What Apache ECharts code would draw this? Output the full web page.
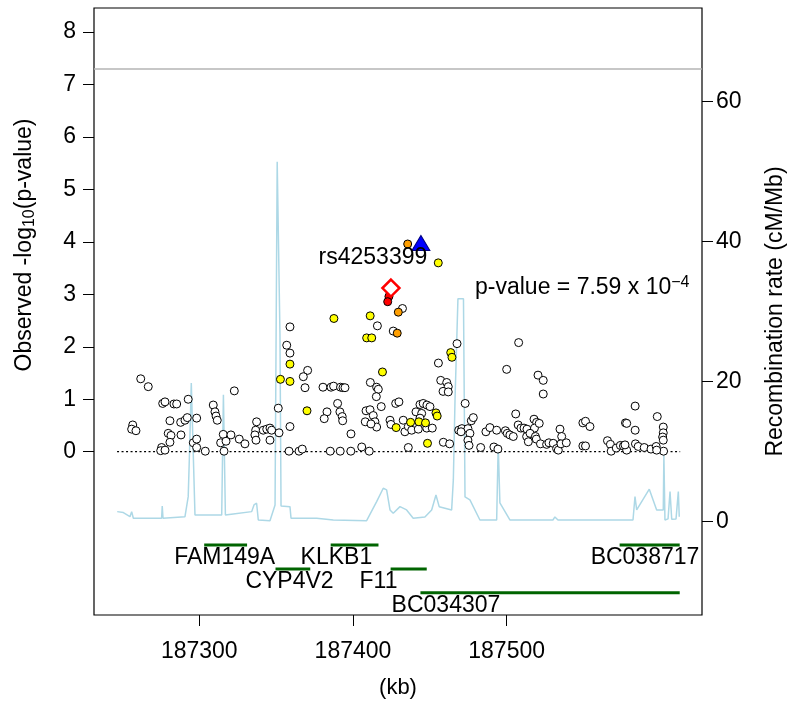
<!DOCTYPE html>
<html><head><meta charset="utf-8">
<script src="https://cdn.jsdelivr.net/npm/echarts@6/dist/echarts.min.js"></script>
<style>html,body{margin:0;padding:0;background:#fff}#c{width:790px;height:704px}</style>
</head><body><div id="c"></div>
<script>
// ---------- data ----------
const xRange = [187231.5, 187627.1];          // kb shown
const yRange = [-3.113, 8.459];               // -log10(p) axis extent
const rRange = [-13.33, 73.34];               // recombination axis extent
const xTicks = [187300, 187400, 187500];
const yTicks = [0, 1, 2, 3, 4, 5, 6, 7, 8];
const rTicks = [0, 20, 40, 60];
const regionKb = [187246.5, 187612.9];
const genomeWideP = 5e-8;

const snpWhite = [
[187261.9,1.39],[187266.8,1.24],[187256.7,0.51],[187256.0,0.43],[187258.8,0.40],
[187276.2,0.92],[187277.7,0.95],[187283.5,0.91],[187285.3,0.91],[187292.8,1.00],
[187280.9,0.59],[187287.9,0.56],[187290.7,0.60],[187292.2,0.65],[187298.3,0.64],
[187279.8,0.35],[187281.6,0.31],[187288.1,0.32],[187280.9,0.18],[187275.5,0.08],
[187274.9,0.02],[187277.7,0.03],[187296.1,0.17],[187298.3,0.24],[187298.3,0.08],
[187303.9,0.01],
[187322.8,1.16],[187309.1,0.89],[187310.2,0.76],[187310.9,0.68],[187311.7,0.60],
[187315.6,0.33],[187313.9,0.17],[187317.4,0.20],[187316.1,0.01],[187320.6,0.32],
[187326.0,0.24],[187329.7,0.15],[187337.3,0.57],[187336.7,0.41],[187336.2,0.32],
[187336.9,0.22],[187341.6,0.41],[187343.9,0.43],[187346.0,0.45],[187347.1,0.41],
[187346.0,0.22],[187351.9,0.36],[187351.4,0.83],
[187359.0,0.48],[187358.4,0.01],[187364.9,0.01],[187367.0,0.05],[187359.0,2.38],
[187356.9,2.03],[187359.0,1.88],[187370.5,1.55],[187367.7,1.43],[187368.8,1.22],
[187380.5,1.23],[187385.7,1.23],[187387.4,1.25],[187391.9,1.23],[187393.5,1.22],
[187394.8,1.22],[187390.0,0.92],[187383.1,0.76],[187381.3,0.63],[187391.5,0.76],
[187393.0,0.67],[187393.3,0.59],[187398.7,0.34],[187385.2,0.01],[187391.7,0.01],
[187398.6,0.01],[187405.7,0.09],[187410.6,0.01],[187415.9,2.40],[187411.3,1.32],
[187415.4,1.23],[187416.5,1.19],[187415.2,1.05],[187418.4,0.86],[187408.5,0.78],
[187411.1,0.80],[187408.0,0.57],[187413.2,0.69],[187414.3,0.57],[187415.4,0.47],
[187411.7,0.53],[187424.1,0.60],[187424.7,0.52],[187427.8,0.92],[187429.9,0.95],
[187426.2,2.30],[187432.2,2.73],
[187432.7,0.60],[187433.8,0.38],[187436.0,0.48],[187438.2,0.41],[187441.0,0.76],
[187443.6,0.90],[187445.7,0.92],[187448.1,0.89],[187450.1,0.86],[187444.7,0.73],
[187442.5,0.43],[187443.6,0.64],[187448.0,0.45],[187451.6,0.45],[187436.0,0.08],
[187458.8,0.18],[187462.9,0.15],[187455.6,1.69],[187457.1,1.36],[187461.0,1.32],
[187462.0,1.24],[187458.6,1.15],[187462.0,1.14],[187467.7,2.06],[187473.0,0.92],
[187468.8,0.41],[187470.9,0.44],[187474.8,0.44],[187477.0,0.59],[187478.3,0.65],
[187476.1,0.35],[187474.8,0.22],[187475.5,0.12],[187470.3,0.38],
[187483.1,0.08],[187486.5,0.38],[187489.1,0.46],[187493.5,0.41],[187491.7,0.09],
[187494.3,0.05],[187500.0,1.57],[187507.8,2.08],[187499.2,0.40],[187500.4,0.35],
[187502.1,0.32],[187504.3,0.29],[187505.9,0.72],[187507.5,0.51],[187509.3,0.45],
[187511.3,0.45],[187513.2,0.43],[187513.0,0.29],[187514.1,0.19],[187517.8,0.62],
[187519.5,0.56],[187518.1,0.45],[187515.2,0.35],[187518.7,0.29],[187521.2,0.54],
[187520.4,1.46],[187523.8,1.36],[187523.8,1.10],[187519.3,0.24],[187522.0,0.15],
[187526.0,0.14],[187527.5,0.17],[187530.3,0.16],[187532.5,0.06],[187533.6,0.03],
[187534.7,0.43],[187535.8,0.29],[187535.3,0.15],[187538.8,0.17],[187549.6,0.55],
[187551.3,0.58],[187554.2,0.48],[187549.6,0.11],[187551.3,0.11],[187565.6,0.21],
[187567.5,0.14],[187568.0,0.01],[187571.3,0.07],[187574.0,0.12],[187576.0,0.11],
[187578.1,0.03],[187577.0,0.13],[187577.3,0.55],[187578.1,0.54],[187583.6,0.87],
[187583.6,0.41],[187583.8,0.15],[187585.6,0.10],[187589.5,0.08],[187593.9,0.05],
[187597.3,0.10],[187598.0,0.67],[187601.9,0.47],[187601.9,0.36],[187601.5,0.28],
[187601.9,0.22],[187602.1,0.01],[187597.6,0.03]
];
const snpYellow = [
[187352.8,1.38],[187359.0,1.34],[187359.0,1.67],[187370.1,0.78],[187387.6,2.54],
[187411.2,2.59],[187408.9,2.17],[187412.2,2.17],[187419.2,1.52],[187428.1,0.46],
[187437.5,0.56],[187442.9,0.57],[187447.2,0.55],[187454.0,0.74],[187454.8,0.68],
[187448.5,0.16],[187463.6,1.89],[187464.4,1.80],[187455.5,3.60]
];
const snpOrange = [[187435.6,3.96],[187429.5,2.66],[187428.8,2.26]];
const snpRed = [[187423.4,2.96],[187422.6,2.86]];
const refSnpName = 'rs4253399';
const refSnp = [[187424.7, 3.12]];
const replicationSnp = [[187444.2, 3.98]];
const pValueText = 'p-value = 7.59 x 10';
const pValueExp = '\u22124';

const recombKb = [187246.6,187250.6,187254.9,187256.0,187257.1,187275.5,187275.9,187276.4,187290.7,187292.8,
187293.6,187294.8,187295.7,187297.2,187314.6,187315.7,187317.0,187322.1,187334.1,187335.6,
187337.3,187338.4,187346.0,187349.3,187350.7,187351.6,187352.5,187353.2,187359.0,187359.7,
187376.4,187387.2,187408.9,187415.4,187419.7,187421.9,187424.1,187426.2,187430.6,187434.9,
187439.2,187446.8,187451.2,187454.0,187456.1,187464.2,187465.3,187466.4,187468.3,187471.9,
187472.9,187476.1,187482.6,187493.5,187494.5,187495.6,187502.1,187530.1,187531.4,187533.4,
187582.2,187583.5,187584.6,187592.8,187597.6,187601.9,187602.3,187603.0,187605.0,187606.3,
187607.4,187610.2,187611.7,187612.3];
const recombRate = [1.43,1.29,0.71,1.43,0.49,0.49,2.24,0.49,0.71,3.57,
9.53,19.81,19.81,0.96,0.96,18.1,0.96,1.1,1.43,2.39,
2.63,0.24,0.14,2.39,51.39,51.39,26.67,2.24,2.14,0.49,
0.49,0.24,0.14,2.86,4.77,4.53,1.67,1.2,2.14,1.67,
0.49,0.67,1.67,3.81,2.14,1.67,5.96,17.39,31.81,31.81,
3.53,3.10,0.24,0.24,10.96,2.67,0.24,0.24,0.67,0.24,
0.24,3.57,1.67,4.63,1.67,1.67,9.53,0.24,0.39,4.29,
0.34,0.39,4.29,0.71];

const geneNames = ['FAM149A','KLKB1','BC038717','CYP4V2','F11','BC034307'];
const geneStart = [187303.2,187385.5,187573.5,187349.6,187424.5,187443.9];
const geneEnd   = [187331.1,187416.6,187612.6,187372.2,187448.0,187612.6];
const geneRow   = [1,1,1,2,2,3];
const geneLabelKb = [187316.5,187389.2,187590.0,187358.7,187416.6,187460.5];

// ---------- chart ----------
const FONT = '"Liberation Sans", Arial, Helvetica, sans-serif';
const rowValue = r => -1.78 - (r - 1) * 0.455;
const chart = echarts.init(document.getElementById('c'));
const circle = (fill) => ({color: fill, borderColor: '#000', borderWidth: 1, opacity: 1});

const option = {
  animation: false,
  backgroundColor: '#fff',
  textStyle: {fontFamily: FONT},
  grid: [
    {left: 94, right: 88, top: 8, bottom: 89, show: true, borderColor: '#000', borderWidth: 1.2,
     backgroundColor: 'transparent', containLabel: false, outerBoundsMode: 'none'},
    {left: 94, right: 88, top: 8, height: 474, containLabel: false, outerBoundsMode: 'none'}
  ],
  xAxis: [
    {type: 'value', gridIndex: 0, min: xRange[0], max: xRange[1],
     axisLine: {show: false, onZero: false}, splitLine: {show: false},
     axisTick: {show: true, length: 11, customValues: xTicks, lineStyle: {color: '#000', width: 1}},
     axisLabel: {customValues: xTicks, fontSize: 23, color: '#000', margin: 25, fontFamily: FONT, formatter: v => String(v)},
     name: '(kb)', nameLocation: 'middle', nameGap: 62,
     nameTextStyle: {fontSize: 22, color: '#000', fontFamily: FONT}},
    {type: 'value', gridIndex: 1, show: false, min: 0, max: 1}
  ],
  yAxis: [
    {type: 'value', gridIndex: 0, position: 'left', min: yRange[0], max: yRange[1],
     axisLine: {show: false, onZero: false}, splitLine: {show: false},
     axisTick: {show: true, length: 11, customValues: yTicks, lineStyle: {color: '#000', width: 1}},
     axisLabel: {customValues: yTicks, fontSize: 23, color: '#000', margin: 18, fontFamily: FONT, formatter: v => String(v)}},
    {type: 'value', gridIndex: 0, position: 'right', min: rRange[0], max: rRange[1],
     axisLine: {show: false, onZero: false}, splitLine: {show: false},
     axisTick: {show: true, length: 11, customValues: rTicks, lineStyle: {color: '#000', width: 1}},
     axisLabel: {customValues: rTicks, fontSize: 23, color: '#000', margin: 14, fontFamily: FONT, formatter: v => String(v)},
     name: 'Recombination rate (cM/Mb)', nameLocation: 'middle', nameRotate: 90, nameGap: 62,
     nameTextStyle: {fontSize: 23, color: '#000', fontFamily: FONT}},
    {type: 'value', gridIndex: 1, min: 0, max: 1,
     axisLine: {show: false}, axisTick: {show: false}, axisLabel: {show: false}, splitLine: {show: false},
     name: '{n|Observed -log}{s|10}{n|(p-value)}', nameLocation: 'middle', nameRotate: 90, nameGap: 56,
     nameTextStyle: {fontFamily: FONT, color: '#000', rich: {
       n: {fontSize: 23, lineHeight: 26, color: '#000', fontFamily: FONT},
       s: {fontSize: 16, lineHeight: 12, verticalAlign: 'bottom', color: '#000', fontFamily: FONT}
     }}}
  ],
  series: [
    {type: 'line', name: 'recomb', xAxisIndex: 0, yAxisIndex: 1, symbol: 'none', z: 1,
     data: recombKb.map((k, i) => [k, recombRate[i]]),
     lineStyle: {color: '#ADD8E6', width: 1.5}, silent: true},
    {type: 'line', name: 'baseline', xAxisIndex: 0, yAxisIndex: 0, symbol: 'none', z: 2,
     data: [[regionKb[0], 0], [regionKb[1], 0]],
     lineStyle: {color: '#000', width: 1.2, type: [2, 2.5]}, silent: true},
    {type: 'custom', name: 'genes', xAxisIndex: 0, yAxisIndex: 0, z: 2,
     data: geneNames.map((n, i) => [geneStart[i], geneEnd[i], geneRow[i], geneLabelKb[i]]),
     renderItem: (params, api) => {
       const rv = rowValue(api.value(2));
       const s = api.coord([api.value(0), rv]);
       const e = api.coord([api.value(1), rv]);
       const l = api.coord([api.value(3), rv]);
       return {type: 'group', children: [
         {type: 'line', shape: {x1: s[0], y1: s[1], x2: e[0], y2: e[1]}, style: {stroke: '#006400', lineWidth: 3}},
         {type: 'text', x: l[0], y: l[1] + 12.5, style: {text: geneNames[params.dataIndex], fill: '#000',
           font: '23px ' + FONT, align: 'center', verticalAlign: 'middle'}}
       ]};
     }},
    {type: 'scatter', name: 'r2<0.2', data: snpWhite, symbolSize: 8, itemStyle: circle('#ffffff'), z: 3,
     markLine: {silent: true, symbol: 'none', label: {show: false},
       lineStyle: {color: '#b5b5b5', width: 1.5, type: 'solid', opacity: 1},
       data: [{yAxis: -Math.log10(genomeWideP)}]}},
    {type: 'scatter', name: 'r2 0.2-0.5', data: snpYellow, symbolSize: 8, itemStyle: circle('#ffff00'), z: 4},
    {type: 'scatter', name: 'r2 0.5-0.8', data: snpOrange, symbolSize: 8, itemStyle: circle('#ff9f00'), z: 4},
    {type: 'scatter', name: 'r2>0.8', data: snpRed, symbolSize: 8, itemStyle: circle('#ff0000'), z: 4},
    {type: 'scatter', name: 'reference', data: refSnp, symbol: 'diamond', symbolSize: 17, z: 5,
     itemStyle: {color: '#ffffff', borderColor: '#ff0000', borderWidth: 2.5, opacity: 1},
     label: {show: true, formatter: refSnpName, position: 'top', distance: 5, offset: [-18, -4],
       fontSize: 23, color: '#000', opacity: 1, fontFamily: FONT}},
    {type: 'scatter', name: 'replication', data: replicationSnp, symbol: 'triangle', symbolSize: [18, 15], z: 5,
     itemStyle: {color: '#0000ff', borderColor: '#000080', borderWidth: 1, opacity: 1}}
  ],
  graphic: [
    {type: 'text', left: 475, top: 275, z: 10, style: {
      text: '{n|' + pValueText + '}{s|' + pValueExp + '}',
      rich: {
        n: {fontSize: 23, lineHeight: 26, fill: '#000', fontFamily: FONT},
        s: {fontSize: 16, lineHeight: 12, verticalAlign: 'top', fill: '#000', fontFamily: FONT}
      }}}
  ]
};
chart.setOption(option);
</script>
</body></html>
